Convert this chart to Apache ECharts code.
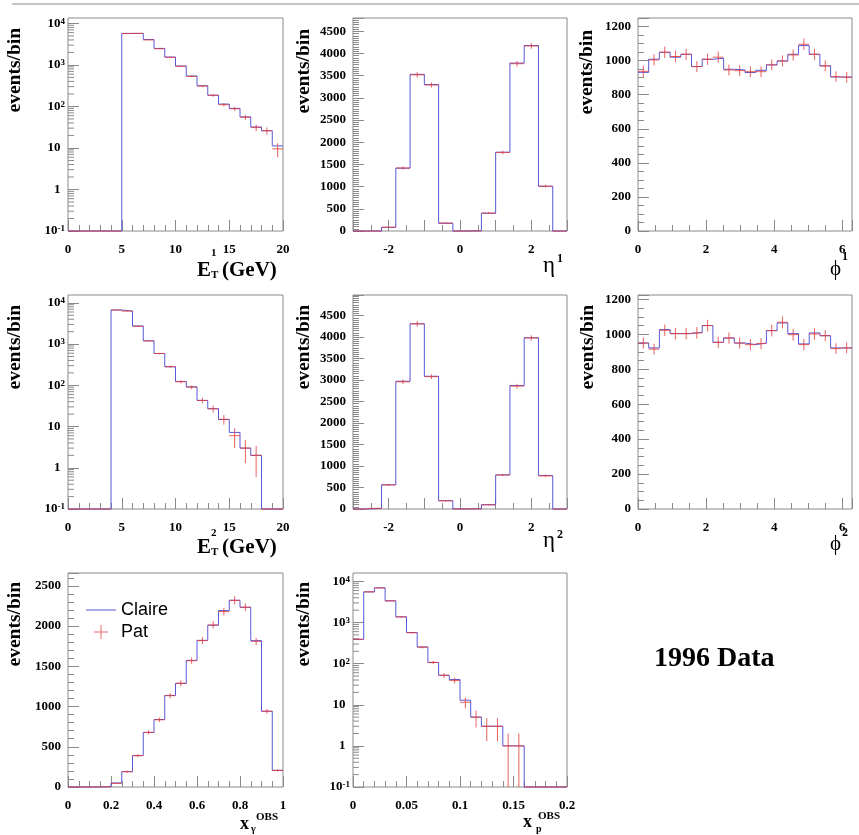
<!DOCTYPE html>
<html><head><meta charset="utf-8">
<script src="https://cdn.jsdelivr.net/npm/echarts@6/dist/echarts.min.js"></script>
<style>html,body{margin:0;padding:0;background:#fff}#c{width:859px;height:835px}</style>
</head><body><div id="c"></div>
<script>
// ---------------- data ----------------
const etEdges = [0,1,2,3,4,5,6,7,8,9,10,11,12,13,14,15,16,17,18,19,20];
const et1Claire = [0,0,0,0,0,5750,5750,4100,2500,1550,940,540,316,187,114,90,56,32,26,11.2];
const et1Pat    = [0,0,0,0,0,5700,5750,4000,2450,1520,930,530,310,185,110,88,55,31,26,9.5];
const et1PatErr = [0,0,0,0,0,75,76,63,49,39,30,23,18,14,10.5,9.4,7.4,5.6,5.1,3.5];

const et2Claire = [0,0,0,0,6700,6330,2750,1200,590,280,124,92,43,27,14.8,7.2,3.0,2.0,0,0];
const et2Pat    = [0,0,0,0,6700,6300,2700,1200,590,285,122,90,43,27,15,6.0,3.0,2.0,0,0];
const et2PatErr = [0,0,0,0,82,79,52,35,24,17,11,9.5,6.6,5.2,3.9,3.0,1.7,1.4,0,0];

const etaEdges = [-3,-2.6,-2.2,-1.8,-1.4,-1,-0.6,-0.2,0.2,0.6,1,1.4,1.8,2.2,2.6,3];
const eta1Claire = [0,0,83,1415,3530,3300,173,0,3,399,1776,3785,4180,1008,0];
const eta1Pat    = [0,0,85,1420,3520,3290,180,0,3,405,1770,3770,4170,1010,0];
const eta1PatErr = [0,0,9,38,59,57,13,0,2,20,42,61,65,32,0];
const eta2Claire = [0,15,564,2973,4309,3089,193,2,5,100,795,2873,3985,780,0];
const eta2Pat    = [0,15,560,2960,4310,3080,190,2,5,95,790,2860,3980,770,0];
const eta2PatErr = [0,4,24,54,66,55,14,1.4,2.2,10,28,53,63,28,0];

const phiEdges = [0,0.3142,0.6283,0.9425,1.2566,1.5708,1.885,2.1991,2.5133,2.8274,3.1416,
                  3.4558,3.7699,4.0841,4.3982,4.7124,5.0265,5.3407,5.6549,5.969,6.2832];
const phi1Claire = [931,1008,1049,1020,1037,965,1008,1014,949,945,930,943,975,998,1037,1088,1037,969,904,904];
const phi1Pat    = [937,1004,1049,1024,1037,965,1008,1020,945,941,935,935,975,998,1033,1096,1037,969,906,902];
const phi1PatErr = [33,33,33,33,33,32,33,33,32,32,32,32,32,33,33,34,33,32,31,31];
const phi2Claire = [950,922,1027,1004,1004,1011,1050,954,979,950,941,950,1021,1065,1004,945,1008,992,922,922];
const phi2Pat    = [950,915,1023,1004,1004,1008,1050,954,979,950,941,947,1021,1069,998,941,1002,992,918,922];
const phi2PatErr = [32,31,33,33,33,33,33,32,32,32,32,32,33,34,33,32,33,32,31,31];

const xgEdges = [0,0.05,0.1,0.15,0.2,0.25,0.3,0.35,0.4,0.45,0.5,0.55,0.6,0.65,0.7,0.75,0.8,0.85,0.9,0.95,1];
const xgClaire = [0,0,0,3,50,191,390,677,839,1138,1287,1574,1823,2010,2193,2321,2234,1819,943,208];
const xgPat    = [0,0,0,3,45,190,390,680,835,1135,1290,1570,1820,2015,2180,2320,2235,1810,940,205];
const xgPatErr = [0,0,0,2,7,14,20,26,29,34,36,40,43,45,47,50,47,43,31,14];

const xpEdges = [0,0.01,0.02,0.03,0.04,0.05,0.06,0.07,0.08,0.09,0.1,0.11,0.12,0.13,0.14,0.15,0.16,0.17,0.18,0.19,0.2];
const xpClaire = [390,5560,6940,3360,1370,570,255,107,52,41,12.9,5.0,3.0,3.0,1.0,1.0,0,0,0,0];
const xpPat    = [390,5560,6940,3360,1370,565,250,107,52,39,11.5,5.0,3.0,3.0,1.0,1.0,0,0,0,0];
const xpPatErr = [20,75,83,58,37,24,16,10,7.2,6.2,3.4,2.2,1.7,1.7,1,1,0,0,0,0];

const seriesNames = ['Claire', 'Pat'];

// ---------------- style ----------------
const BLUE = '#5858d8';
const RED = 'rgba(226,58,58,0.8)';
const FRAME = '#8a8a8a';
const SERIF = "'Liberation Serif','Times New Roman',serif";
const SANS = "'Liberation Sans',Arial,sans-serif";

const panels = [
  {g:[68,18,215,213], edges:etEdges, c:et1Claire, p:et1Pat, e:et1PatErr,
   x:{min:0,max:20,interval:5,minor:5}, y:{log:true,min:0.1,max:13500}},
  {g:[353,18,214,213], edges:etaEdges, c:eta1Claire, p:eta1Pat, e:eta1PatErr,
   x:{min:-3,max:3,interval:1,minor:2,even:true}, y:{min:0,max:4800,interval:500,minor:10}},
  {g:[638,18,214,213], edges:phiEdges, c:phi1Claire, p:phi1Pat, e:phi1PatErr,
   x:{min:0,max:6.2832,interval:2,minor:4,hideMax:true}, y:{min:0,max:1250,interval:200,minor:4}},
  {g:[68,295,215,214], edges:etEdges, c:et2Claire, p:et2Pat, e:et2PatErr,
   x:{min:0,max:20,interval:5,minor:5}, y:{log:true,min:0.1,max:15500}},
  {g:[353,295,214,214], edges:etaEdges, c:eta2Claire, p:eta2Pat, e:eta2PatErr,
   x:{min:-3,max:3,interval:1,minor:2,even:true}, y:{min:0,max:4980,interval:500,minor:10}},
  {g:[638,295,214,214], edges:phiEdges, c:phi2Claire, p:phi2Pat, e:phi2PatErr,
   x:{min:0,max:6.2832,interval:2,minor:4,hideMax:true}, y:{min:0,max:1225,interval:200,minor:4}},
  {g:[68,573,215,214], edges:xgEdges, c:xgClaire, p:xgPat, e:xgPatErr,
   x:{min:0,max:1,interval:0.2,minor:4}, y:{min:0,max:2660,interval:500,minor:5}},
  {g:[353,573,214,214], edges:xpEdges, c:xpClaire, p:xpPat, e:xpPatErr,
   x:{min:0,max:0.2,interval:0.05,minor:5}, y:{log:true,min:0.1,max:16000}}
];

const labelBase = {color:'#000', fontFamily:SERIF, fontWeight:'bold', fontSize:13};
const fmtNum = v => String(+(+v).toFixed(4));

function stepPoints(edges, vals, floor) {
  const pts = [];
  for (let i = 0; i < vals.length; i++) {
    const v = floor != null ? Math.max(vals[i], floor) : vals[i];
    pts.push([edges[i], v]);
    pts.push([edges[i + 1], v]);
  }
  return pts;
}

const grid = [], xAxis = [], yAxis = [], series = [];
panels.forEach((P, i) => {
  const floor = P.y.log ? P.y.min : null;
  grid.push({left:P.g[0], top:P.g[1], width:P.g[2], height:P.g[3], show:true,
    borderColor:FRAME, borderWidth:1, backgroundColor:'transparent', containLabel:false, outerBoundsMode:'none'});
  xAxis.push({
    gridIndex:i, type:'value', min:P.x.min, max:P.x.max, interval:P.x.interval,
    axisLine:{show:false, onZero:false}, splitLine:{show:false},
    axisTick:{show:true, inside:true, length:11, lineStyle:{color:FRAME}},
    minorTick:{show:true, splitNumber:P.x.minor, length:6, lineStyle:{color:FRAME}},
    axisLabel:Object.assign({}, labelBase, {margin:12, showMaxLabel:!P.x.hideMax, showMinLabel:true,
      formatter: P.x.even ? (v => (Math.abs(Math.round(v)) % 2 === 0 ? fmtNum(v) : '')) : fmtNum})
  });
  if (P.y.log) {
    yAxis.push({
      gridIndex:i, type:'log', logBase:10, min:P.y.min, max:P.y.max,
      axisLine:{show:false, onZero:false}, splitLine:{show:false},
      axisTick:{show:true, inside:true, length:11, lineStyle:{color:FRAME}},
      axisLabel:Object.assign({}, labelBase, {margin:3, showMaxLabel:false,
        formatter: v => {
          const e = Math.round(Math.log10(v));
          if (e === 0) return '1{h|4}';
          if (e === 1) return '10{h|4}';
          return '10{s|' + e + '}';
        },
        rich:{
          s:{fontSize:9, fontWeight:'bold', fontFamily:SERIF, color:'#000', verticalAlign:'top'},
          h:{fontSize:9, fontWeight:'bold', fontFamily:SERIF, color:'rgba(0,0,0,0)', verticalAlign:'top'}
        }})
    });
  } else {
    yAxis.push({
      gridIndex:i, type:'value', min:P.y.min, max:P.y.max, interval:P.y.interval,
      axisLine:{show:false, onZero:false}, splitLine:{show:false},
      axisTick:{show:true, inside:true, length:11, lineStyle:{color:FRAME}},
      minorTick:{show:true, splitNumber:P.y.minor, length:6, lineStyle:{color:FRAME}},
      axisLabel:Object.assign({}, labelBase, {margin:7, showMaxLabel:false, formatter:fmtNum})
    });
  }
  // log-axis minor ticks (2..9 x 10^n)
  if (P.y.log) {
    const ticks = [];
    for (let d = -1; d <= 4; d++) for (let m = 2; m <= 9; m++) {
      const v = m * Math.pow(10, d);
      if (v < P.y.max) ticks.push([P.x.min, v]);
    }
    series.push({
      type:'custom', name:'_ticks', xAxisIndex:i, yAxisIndex:i, silent:true, clip:false,
      data:ticks, encode:{x:0, y:1},
      renderItem:(params, api) => {
        const p = api.coord([api.value(0), api.value(1)]);
        return {type:'line', shape:{x1:p[0], y1:p[1], x2:p[0] + 6, y2:p[1]},
                style:{stroke:FRAME, lineWidth:1}};
      }
    });
  }
  // Claire: histogram outline
  series.push({
    type:'line', name:seriesNames[0], xAxisIndex:i, yAxisIndex:i,
    data:stepPoints(P.edges, P.c, floor), showSymbol:false, symbol:'none', clip:false,
    lineStyle:{color:BLUE, width:1}, itemStyle:{color:BLUE}, z:3
  });
  // Pat: crosses (bin-width horizontal bar + vertical error bar)
  series.push({
    type:'custom', name:seriesNames[1], xAxisIndex:i, yAxisIndex:i, clip:false, z:4,
    itemStyle:{color:RED},
    data:P.p.map((v, k) => [P.edges[k], P.edges[k + 1], v, P.e[k]]),
    encode:{x:[0, 1], y:2},
    renderItem:(params, api) => {
      const lo = api.value(0), hi = api.value(1), v = api.value(2), er = api.value(3);
      const f = floor != null ? floor : -Infinity;
      const yv = Math.max(v, f);
      const a = api.coord([lo, yv]), b = api.coord([hi, yv]);
      const children = [{type:'line', shape:{x1:a[0], y1:a[1], x2:b[0], y2:b[1]},
                         style:{stroke:RED, lineWidth:1}}];
      if (er > 0) {
        const mid = (lo + hi) / 2;
        const t = api.coord([mid, Math.max(v + er, f)]);
        const bt = api.coord([mid, Math.max(v - er, f)]);
        children.push({type:'line', shape:{x1:t[0], y1:t[1], x2:bt[0], y2:bt[1]},
                       style:{stroke:RED, lineWidth:1}});
      }
      return {type:'group', children};
    }
  });
});

// ---------------- text decorations ----------------
function txt(x, y, text, size, opt) {
  opt = opt || {};
  const align = opt.align || 'left', va = opt.va || 'middle';
  return {type:'text', x, y, rotation:opt.rot || 0, silent:true,
    style:{text, fill:'#000', fontSize:size, fontWeight:opt.weight || 'bold',
      fontFamily:opt.family || SERIF, align, textAlign:align, verticalAlign:va, textVerticalAlign:va}};
}
const graphics = [
  {type:'line', shape:{x1:12, y1:4, x2:859, y2:4}, style:{stroke:'#b0b0b0', lineWidth:1.5}, silent:true}
];
const yTitle = [[14.5,28],[303.5,29],[587,30],[14.5,305],[303.5,305],[587.5,305],[14.5,582],[303.5,582]];
yTitle.forEach(([x, y]) => graphics.push(txt(x, y, 'events/bin', 19.5, {align:'right', rot:Math.PI / 2})));
// E_T titles
[[0, '1', 253], [277, '2', 533]].forEach(([dy, n, sy]) => {
  graphics.push(txt(197, 271 + dy, 'E', 21));
  graphics.push(txt(211, 275.5 + dy, 'T', 11));
  graphics.push(txt(211, sy, n, 11));
  graphics.push(txt(222, 271 + dy, '(GeV)', 21));
});
// eta titles
graphics.push(txt(543, 265.5, 'η', 23, {weight:'normal'}));
graphics.push(txt(557, 259, '1', 12));
graphics.push(txt(543, 540.5, 'η', 23, {weight:'normal'}));
graphics.push(txt(557, 535, '2', 12));
// phi titles
graphics.push(txt(830, 269, 'ϕ', 21, {weight:'normal'}));
graphics.push(txt(842, 257, '1', 12));
graphics.push(txt(830, 544, 'ϕ', 21, {weight:'normal'}));
graphics.push(txt(842, 533, '2', 12));
// x_gamma^OBS , x_p^OBS
graphics.push(txt(240, 824.5, 'x', 18));
graphics.push(txt(251, 829, 'γ', 10));
graphics.push(txt(256, 817, 'OBS', 11));
graphics.push(txt(523, 822.5, 'x', 18));
graphics.push(txt(536, 829, 'p', 10));
graphics.push(txt(538, 816, 'OBS', 11));
// 1996 Data
graphics.push(txt(654, 659, '1996 Data', 28));

const chart = echarts.init(document.getElementById('c'), null, {renderer:'canvas'});
chart.setOption({
  animation:false,
  backgroundColor:'#fff',
  grid, xAxis, yAxis, series,
  legend:{
    left:86, top:601, orient:'vertical', padding:0, itemWidth:30, itemHeight:14, itemGap:4,
    textStyle:{color:'#000', fontFamily:SANS, fontSize:18},
    selectedMode:false,
    data:[
      {name:seriesNames[0], icon:'path://M0,0L30,0L30,1L0,1Z', itemStyle:{color:BLUE}},
      {name:seriesNames[1], icon:'path://M0,7L15,7L15,8L0,8Z M7,0L8,0L8,15L7,15Z', itemStyle:{color:RED}}
    ]
  },
  graphic:graphics
});
</script>
</body></html>
